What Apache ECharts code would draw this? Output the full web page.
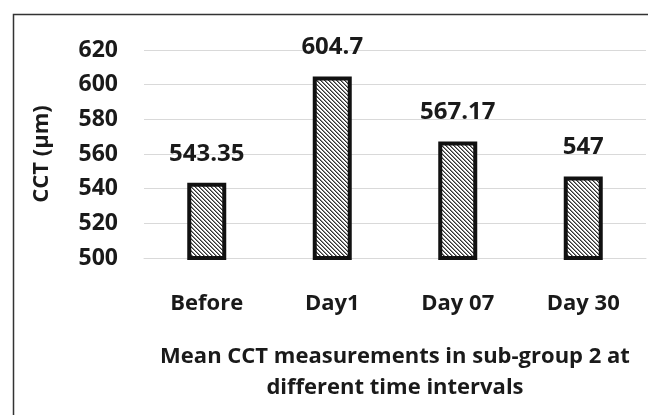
<!DOCTYPE html>
<html>
<head>
<meta charset="utf-8">
<script src="https://cdn.jsdelivr.net/npm/echarts@6/dist/echarts.min.js"></script>
<style>
html,body{margin:0;padding:0;background:#fff;}
#chart{width:648px;height:415px;}
</style>
</head>
<body>
<div id="chart"></div>
<script>
var categories = ['Before', 'Day1', 'Day 07', 'Day 30'];
var values = [543.35, 604.7, 567.17, 547];
var valueLabels = ['543.35', '604.7', '567.17', '547'];
var yTicks = [500, 520, 540, 560, 580, 600, 620];

function makeHatch() {
  var c = document.createElement('canvas');
  c.width = 8; c.height = 8;
  var ctx = c.getContext('2d');
  var img = ctx.createImageData(8, 8);
  for (var y = 0; y < 8; y++) {
    for (var x = 0; x < 8; x++) {
      var m = ((x - y) % 4 + 4) % 4;
      var v = m === 0 ? 50 : (m === 1 ? 140 : 255);
      var i = (y * 8 + x) * 4;
      img.data[i] = v; img.data[i + 1] = v; img.data[i + 2] = v; img.data[i + 3] = 255;
    }
  }
  ctx.putImageData(img, 0, 0);
  return c;
}

var FONT = '"Open Sans", "DejaVu Sans", sans-serif';
var chart = echarts.init(document.getElementById('chart'), null, {renderer: 'canvas'});
var option = {
  animation: false,
  backgroundColor: '#fff',
  grid: {left: 144, right: 2, top: 50, bottom: 157, containLabel: false},
  graphic: [{
    type: 'rect',
    shape: {x: 13.5, y: 14.5, width: 700, height: 500},
    style: {fill: 'none', stroke: '#333', lineWidth: 1.5},
    silent: true, z: 100
  }],
  xAxis: {
    type: 'category',
    data: categories,
    axisTick: {show: false},
    axisLine: {show: true, lineStyle: {color: '#d9d9d9', width: 1}},
    axisLabel: {color: '#1a1a1a', fontFamily: FONT, fontWeight: 'bold', fontSize: 22, margin: 35},
    name: 'Mean CCT measurements in sub-group 2 at\ndifferent time intervals',
    nameLocation: 'middle',
    nameGap: 83,
    nameTextStyle: {color: '#1a1a1a', fontFamily: FONT, fontWeight: 'bold', fontSize: 22, lineHeight: 31}
  },
  yAxis: {
    type: 'value',
    min: yTicks[0],
    max: yTicks[yTicks.length - 1],
    interval: yTicks[1] - yTicks[0],
    axisLine: {show: false},
    axisTick: {show: false},
    splitLine: {show: true, lineStyle: {color: '#d9d9d9', width: 1}},
    axisLabel: {color: '#1a1a1a', fontFamily: FONT, fontWeight: 'bold', fontSize: 23, margin: 26},
    name: 'CCT (μm)',
    nameLocation: 'middle',
    nameRotate: 90,
    nameGap: 91,
    nameTextStyle: {color: '#1a1a1a', fontFamily: FONT, fontWeight: 'bold', fontSize: 22}
  },
  series: [{
    type: 'bar',
    data: values,
    barWidth: 39,
    itemStyle: {
      color: {image: makeHatch(), repeat: 'repeat'},
      borderColor: '#111',
      borderWidth: 4
    },
    label: {
      show: true,
      position: 'top',
      distance: 17,
      color: '#1a1a1a',
      fontFamily: FONT,
      fontWeight: 'bold',
      fontSize: 24,
      formatter: function (p) { return valueLabels[p.dataIndex]; }
    }
  }]
};
chart.setOption(option);
</script>
</body>
</html>
